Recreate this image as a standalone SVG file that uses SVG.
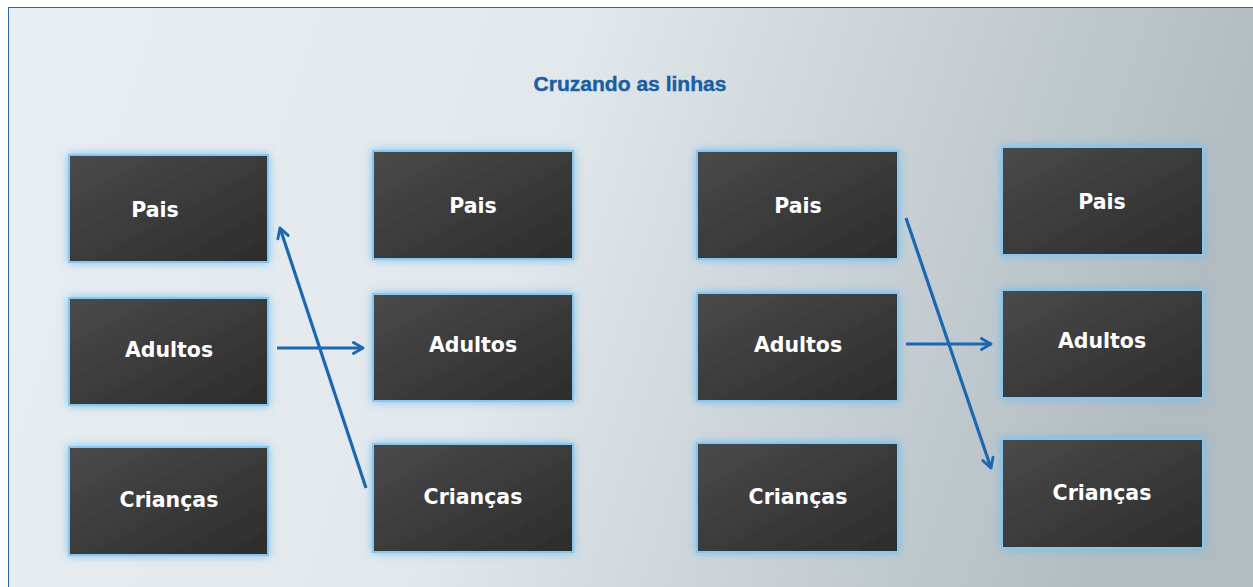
<svg xmlns="http://www.w3.org/2000/svg" width="1253" height="587" viewBox="0 0 1253 587">
<defs>
<linearGradient id="bg" x1="0" y1="0" x2="1" y2="0.15">
<stop offset="0" stop-color="#e8eef2"/>
<stop offset="0.45" stop-color="#e2e8ec"/>
<stop offset="1" stop-color="#b1bbc0"/>
</linearGradient>
<linearGradient id="box" x1="0" y1="0" x2="1" y2="1">
<stop offset="0" stop-color="#4a4a4a"/>
<stop offset="1" stop-color="#2c2c2c"/>
</linearGradient>
<filter id="glow" x="-20%" y="-30%" width="140%" height="160%">
<feDropShadow dx="0" dy="0" stdDeviation="5" flood-color="#6cbcf0" flood-opacity="0.85"/>
</filter>
<marker id="ah" viewBox="0 0 12 12" refX="10" refY="6" markerWidth="4.5" markerHeight="4.5" orient="auto" markerUnits="strokeWidth">
<path d="M2,1.5 L10,6 L2,10.5" fill="none" stroke="#1c68b0" stroke-width="2.4" stroke-linecap="round" stroke-linejoin="round"/>
</marker>
<style>
.box{fill:url(#box);stroke:#86c6ef;stroke-width:2;filter:url(#glow)}
.lbl{font-family:"DejaVu Sans","Liberation Sans",sans-serif;font-weight:bold;font-size:20.5px;fill:#ffffff;text-anchor:middle}
.arr{stroke:#1c68b0;stroke-width:3.2;fill:none;marker-end:url(#ah)}
</style>
</defs>
<rect x="0" y="0" width="1253" height="587" fill="#ffffff"/>
<rect x="8.5" y="7.5" width="1250" height="585" fill="url(#bg)" stroke="#2a68a6" stroke-width="1"/>
<text x="630" y="91" font-family="'Liberation Sans',sans-serif" font-weight="bold" font-size="20" fill="#1a5ea3" text-anchor="middle" textLength="193" lengthAdjust="spacingAndGlyphs" stroke="#1a5ea3" stroke-width="0.4">Cruzando as linhas</text>
<g id="c1-pais"><rect class="box" x="69" y="155" width="199" height="107"/><text class="lbl" x="155" y="217">Pais</text></g>
<g id="c1-adultos"><rect class="box" x="69" y="298" width="199" height="107"/><text class="lbl" x="169" y="357">Adultos</text></g>
<g id="c1-criancas"><rect class="box" x="69" y="447" width="199" height="108"/><text class="lbl" x="169" y="507">Crianças</text></g>
<g id="c2-pais"><rect class="box" x="373" y="151" width="200" height="108"/><text class="lbl" x="473" y="213">Pais</text></g>
<g id="c2-adultos"><rect class="box" x="373" y="294" width="200" height="107"/><text class="lbl" x="473" y="352">Adultos</text></g>
<g id="c2-criancas"><rect class="box" x="373" y="444" width="200" height="108"/><text class="lbl" x="473" y="504">Crianças</text></g>
<g id="c3-pais"><rect class="box" x="697" y="151" width="201" height="108"/><text class="lbl" x="798" y="213">Pais</text></g>
<g id="c3-adultos"><rect class="box" x="697" y="293" width="201" height="108"/><text class="lbl" x="798" y="352">Adultos</text></g>
<g id="c3-criancas"><rect class="box" x="697" y="443" width="201" height="109"/><text class="lbl" x="798" y="504">Crianças</text></g>
<g id="c4-pais"><rect class="box" x="1002" y="147" width="201" height="108"/><text class="lbl" x="1102" y="209">Pais</text></g>
<g id="c4-adultos"><rect class="box" x="1002" y="290" width="201" height="108"/><text class="lbl" x="1102" y="348">Adultos</text></g>
<g id="c4-criancas"><rect class="box" x="1002" y="439" width="201" height="109"/><text class="lbl" x="1102" y="500">Crianças</text></g>
<g id="connectors">
<line class="arr" x1="366" y1="488" x2="280" y2="228"/>
<line class="arr" x1="277" y1="348" x2="363" y2="348"/>
<line class="arr" x1="906" y1="218" x2="991" y2="468"/>
<line class="arr" x1="906" y1="344" x2="991" y2="344"/>
</g>
</svg>
